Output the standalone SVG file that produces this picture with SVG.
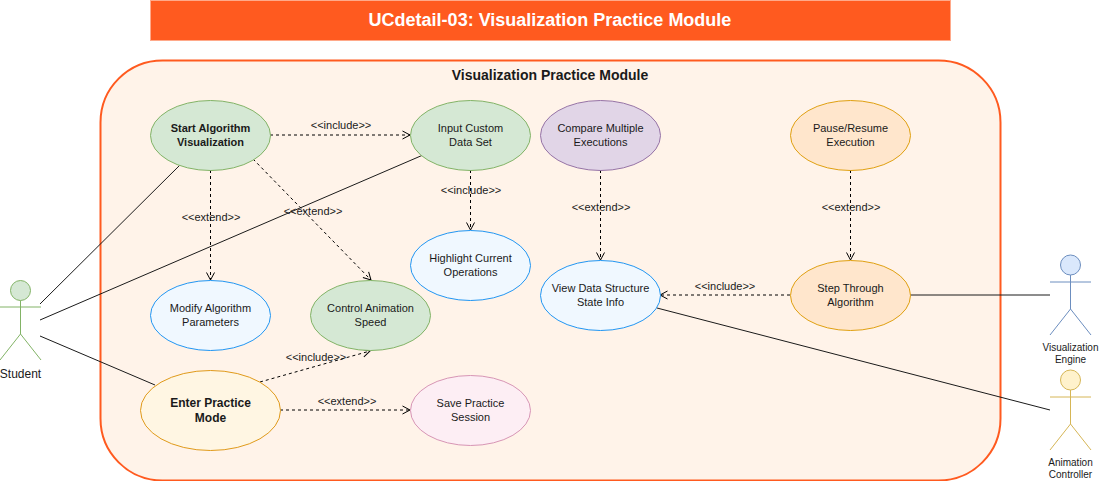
<svg xmlns="http://www.w3.org/2000/svg" width="1099" height="481" viewBox="0 0 1099 481">
<style>
text{font-family:"Liberation Sans",Arial,sans-serif;text-anchor:middle;fill:#1a1a1a;font-size:11px}
.b{font-weight:bold}
.e{stroke-width:1}
.a{fill:none;stroke-width:1}
.sol{fill:none;stroke:#1a1a1a;stroke-width:1}
.dash{fill:none;stroke:#000;stroke-width:1;stroke-dasharray:3 3;marker-end:url(#o)}
.g{fill:#d5e8d4;stroke:#82b366}
.bl{fill:#f0f8ff;stroke:#2196f3}
.p{fill:#e1d5e7;stroke:#9673a6}
.o{fill:#ffe6cc;stroke:#e0a010}
.y{fill:#fff6e3;stroke:#e09a1a}
.pk{fill:#fdeef4;stroke:#d795b5}
</style>
<defs><marker id="o" markerUnits="userSpaceOnUse" markerWidth="12" markerHeight="12" refX="8" refY="4.500" orient="auto" overflow="visible"><path d="M0.500 0.500L8 4.500L0.500 8.500" fill="none" stroke="#000" stroke-width="1"/></marker></defs>
<g id="title"><rect x="150.500" y="0.500" width="800" height="40" fill="#ff5a1f" stroke="#ffa98a"/><text x="550" y="26" class="b" style="fill:#fff;font-size:18px">UCdetail-03: Visualization Practice Module</text></g>
<g id="system"><rect x="100.500" y="60.500" width="900" height="420" rx="62" ry="62" fill="#fff3e9" stroke="#ff5a1f" stroke-width="2"/><text x="550" y="80" class="b" style="font-size:14px">Visualization Practice Module</text></g>
<g id="connectors">
<path class="sol" d="M40 304L180 165M40 320L423 155M40 336L155 385M910 295H1050M657 308L1050 410"/>
<path class="dash" d="M270 135H410"/><path class="dash" d="M470.500 170V230"/><path class="dash" d="M210.500 170V280"/><path class="dash" d="M253 159L371 280"/><path class="dash" d="M600.500 170V260"/><path class="dash" d="M850.500 170V260"/><path class="dash" d="M790 295H660"/><path class="dash" d="M260 382L370 351"/><path class="dash" d="M280 410H410"/>
</g>
<g id="labels">
<text x="341" y="129">&lt;&lt;include&gt;&gt;</text><text x="471" y="194">&lt;&lt;include&gt;&gt;</text><text x="211" y="221">&lt;&lt;extend&gt;&gt;</text><text x="313" y="215">&lt;&lt;extend&gt;&gt;</text><text x="601" y="211">&lt;&lt;extend&gt;&gt;</text><text x="851" y="211">&lt;&lt;extend&gt;&gt;</text><text x="725" y="290">&lt;&lt;include&gt;&gt;</text><text x="316" y="361">&lt;&lt;include&gt;&gt;</text><text x="347" y="405">&lt;&lt;extend&gt;&gt;</text>
</g>
<g id="uc1"><ellipse class="e g" cx="210.500" cy="135.500" rx="60" ry="35"/><text x="210.500" y="132" class="b">Start Algorithm</text><text x="210.500" y="146" class="b">Visualization</text></g>
<g id="uc2"><ellipse class="e g" cx="470.500" cy="135.500" rx="60" ry="35"/><text x="470.500" y="132">Input Custom</text><text x="470.500" y="146">Data Set</text></g>
<g id="uc3"><ellipse class="e p" cx="600.500" cy="135.500" rx="60" ry="35"/><text x="600.500" y="132">Compare Multiple</text><text x="600.500" y="146">Executions</text></g>
<g id="uc4"><ellipse class="e o" cx="850.500" cy="135.500" rx="60" ry="35"/><text x="850.500" y="132">Pause/Resume</text><text x="850.500" y="146">Execution</text></g>
<g id="uc5"><ellipse class="e bl" cx="470.500" cy="265.500" rx="60" ry="35"/><text x="470.500" y="262">Highlight Current</text><text x="470.500" y="276">Operations</text></g>
<g id="uc6"><ellipse class="e bl" cx="600.500" cy="295.500" rx="60" ry="35"/><text x="600.500" y="292">View Data Structure</text><text x="600.500" y="306">State Info</text></g>
<g id="uc7"><ellipse class="e o" cx="850.500" cy="295.500" rx="60" ry="35"/><text x="850.500" y="292">Step Through</text><text x="850.500" y="306">Algorithm</text></g>
<g id="uc8"><ellipse class="e bl" cx="210.500" cy="315.500" rx="60" ry="35"/><text x="210.500" y="312">Modify Algorithm</text><text x="210.500" y="326">Parameters</text></g>
<g id="uc9"><ellipse class="e g" cx="370.500" cy="315.500" rx="60" ry="35"/><text x="370.500" y="312">Control Animation</text><text x="370.500" y="326">Speed</text></g>
<g id="uc10"><ellipse class="e y" cx="210.500" cy="410.500" rx="70" ry="40"/><text x="210.500" y="407" class="b" style="font-size:12px">Enter Practice</text><text x="210.500" y="422" class="b" style="font-size:12px">Mode</text></g>
<g id="uc11"><ellipse class="e pk" cx="470.500" cy="410.500" rx="60" ry="35"/><text x="470.500" y="407">Save Practice</text><text x="470.500" y="421">Session</text></g>
<g id="student"><circle cx="20.500" cy="290.500" r="10" fill="#d5e8d4" stroke="#82b366"/><path class="a" stroke="#82b366" d="M20.500 300.500V334M0 307H41M20.500 334L0 360M20.500 334L41 360"/><text x="20.500" y="378" style="font-size:12px">Student</text></g>
<g id="engine"><circle cx="1070.500" cy="265" r="10" fill="#dae8fc" stroke="#6c8ebf"/><path class="a" stroke="#6c8ebf" d="M1070.500 275V309M1050 282H1091M1070.500 309L1050 335M1070.500 309L1091 335"/><text x="1070.500" y="351" style="font-size:10px">Visualization</text><text x="1070.500" y="363" style="font-size:10px">Engine</text></g>
<g id="controller"><circle cx="1070.500" cy="380" r="10" fill="#fff2cc" stroke="#d6b656"/><path class="a" stroke="#d6b656" d="M1070.500 390V424M1050 397H1091M1070.500 424L1050 450M1070.500 424L1091 450"/><text x="1070.500" y="466" style="font-size:10px">Animation</text><text x="1070.500" y="478" style="font-size:10px">Controller</text></g>
</svg>
